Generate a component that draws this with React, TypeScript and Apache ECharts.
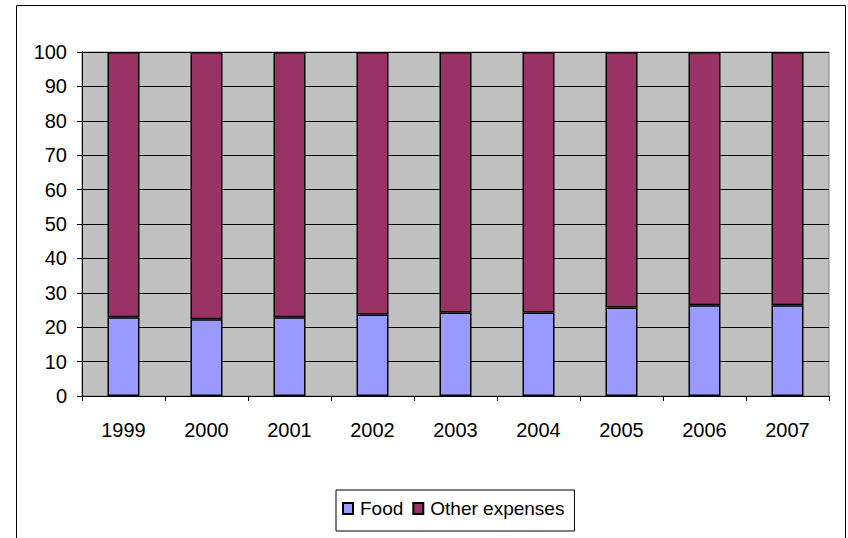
import React, { useEffect, useRef } from "react";
import * as echarts from "echarts";

const years = ["1999", "2000", "2001", "2002", "2003", "2004", "2005", "2006", "2007"];
const food = [22.9, 22.3, 22.9, 23.7, 24.3, 24.3, 25.7, 26.4, 26.4];
const other = [77.1, 77.7, 77.1, 76.3, 75.7, 75.7, 74.3, 73.6, 73.6];

const FONT = "'Liberation Sans', Arial, sans-serif";

export default function App() {
  const ref = useRef<HTMLDivElement>(null);
  useEffect(() => {
    const chart = echarts.init(ref.current!, null, { renderer: "svg" });
    chart.setOption({
      animation: false,
      backgroundColor: "#ffffff",
      textStyle: { fontFamily: FONT },
      graphic: [
        {
          type: "rect",
          shape: { x: 16.5, y: 5.5, width: 829, height: 560 },
          style: { fill: "none", stroke: "#000", lineWidth: 1 },
          silent: true,
        },
      ],
      grid: {
        left: 82,
        right: 19,
        top: 52,
        bottom: 142,
        show: true,
        backgroundColor: "#C0C0C0",
        borderColor: "#808080",
        borderWidth: 1,
      },
      legend: {
        data: ["Food", "Other expenses"],
        left: 336,
        top: 490,
        icon: "rect",
        itemWidth: 10,
        itemHeight: 11,
        itemGap: 9,
        padding: [9, 10, 13, 6],
        borderColor: "#000",
        borderWidth: 1,
        textStyle: { fontSize: 19, color: "#000", fontFamily: FONT, padding: [0, 0, 0, 2] },
      },
      xAxis: {
        type: "category",
        data: years,
        axisLine: { show: true, lineStyle: { color: "#000", width: 1 } },
        axisTick: { show: true, alignWithLabel: false, length: 5, lineStyle: { color: "#000" } },
        axisLabel: { color: "#000", fontSize: 20, margin: 24, fontFamily: FONT },
        splitLine: { show: false },
      },
      yAxis: {
        type: "value",
        min: 0,
        max: 100,
        interval: 10,
        axisLine: { show: true, lineStyle: { color: "#000", width: 1 } },
        axisTick: { show: true, length: 5, lineStyle: { color: "#000" } },
        axisLabel: { color: "#000", fontSize: 20, margin: 15, fontFamily: FONT },
        splitLine: { show: true, lineStyle: { color: "#000", width: 1 } },
      },
      series: [
        {
          name: "Food",
          type: "bar",
          stack: "total",
          data: food,
          barWidth: 32,
          itemStyle: { color: "#9999FF", borderColor: "#000", borderWidth: 1.5 },
        },
        {
          name: "Other expenses",
          type: "bar",
          stack: "total",
          data: other,
          barWidth: 32,
          itemStyle: { color: "#993366", borderColor: "#000", borderWidth: 1.5 },
        },
      ],
    });
    return () => chart.dispose();
  }, []);
  return <div ref={ref} style={{ width: 848, height: 538, position: "absolute", left: 0, top: 0 }} />;
}
